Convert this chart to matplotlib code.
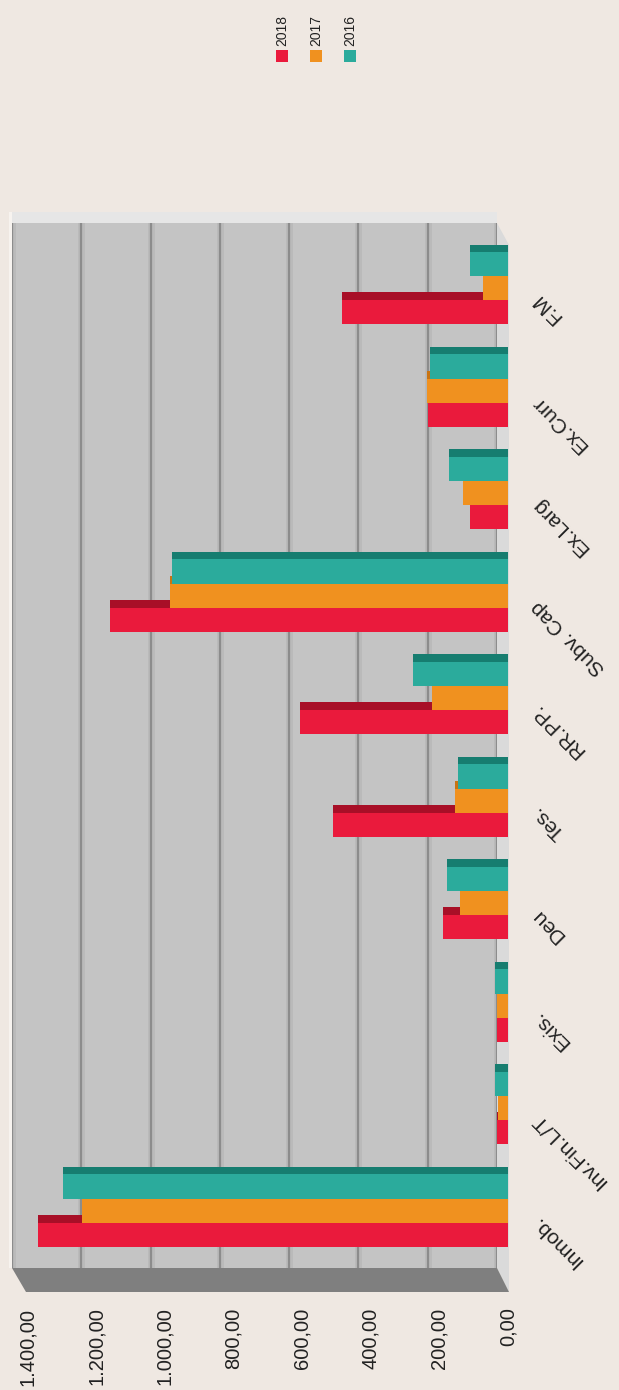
import matplotlib
matplotlib.use("Agg")
import matplotlib.pyplot as plt
from matplotlib.patches import Polygon, Rectangle
import numpy as np

plt.rcParams['font.family'] = ['Liberation Sans', 'DejaVu Sans']

# ---------------- data ----------------
categories = ["Inmob.", "Inv.Fin.L/T", "Exis.", "Deu", "Tes.", "RR.PP.",
              "Subv. Cap", "Ex.Larg", "Ex.Curr", "F.M"]
series_names = ["2018", "2017", "2016"]
vals_2018 = [1370, 32, 32, 190, 510, 606, 1160, 111, 233, 484]
vals_2017 = [1242, 30, 32, 140, 155, 222, 985, 131, 236, 73]
vals_2016 = [1297, 38, 38, 178, 146, 277, 980, 172, 227, 111]
value_ticks = [0, 200, 400, 600, 800, 1000, 1200, 1400]
value_tick_labels = ["0,00", "200,00", "400,00", "600,00", "800,00",
                     "1.000,00", "1.200,00", "1.400,00"]

colors_face = ["#ea1a3c", "#f0911f", "#2bab9c"]
colors_dark = ["#a80f27", "#c97412", "#167d70"]

W, H = 619, 1390
BG = "#efe8e2"
fig = plt.figure(figsize=(W / 100, H / 100), dpi=100, facecolor=BG)


def fx(px):
    return px / W


def fy(py):
    return 1 - py / H


# ---------------- back wall ----------------
bx0, bx1, by0, by1 = 12, 497, 223, 1268
ax_back = fig.add_axes([fx(bx0), fy(by1), fx(bx1 - bx0), (by1 - by0) / H])
ax_back.set_zorder(-1)
ax_back.set_facecolor("#c4c4c4")
ax_back.set_xlim(1400, 0)
ax_back.set_ylim(0, 1)
for v in value_ticks:
    ax_back.axvline(v, color="#8c8c8c", lw=1.6, zorder=1)
    ax_back.axvline(v, color="#b4b4b4", lw=5, zorder=0.5, alpha=0.6)
for s in ax_back.spines.values():
    s.set_visible(False)
ax_back.set_xticks([])
ax_back.set_yticks([])

deco = dict(transform=fig.transFigure, edgecolor="none", zorder=-2)
# top edge of wall
fig.patches.append(Rectangle((fx(bx0), fy(by0)), fx(bx1 - bx0), 11 / H,
                             facecolor="#e6e6e6", **deco))
# left edge highlight
fig.patches.append(Rectangle((fx(bx0 - 3), fy(by1)), fx(3), (by1 - by0 + 11) / H,
                             facecolor="#f7f3ef", **deco))
# floor (right side)
fig.patches.append(Polygon([(fx(497), fy(223)), (fx(509), fy(245)),
                            (fx(509), fy(1292)), (fx(497), fy(1268))],
                           closed=True, facecolor="#dadada", **deco))
# side wall (dark band)
fig.patches.append(Polygon([(fx(12), fy(1268)), (fx(497), fy(1268)),
                            (fx(509), fy(1292)), (fx(26), fy(1292))],
                           closed=True, facecolor="#7f7f7f", **deco))

# ---------------- front axes with bars ----------------
ax = fig.add_axes([fx(27.6), fy(1270), fx(508 - 27.6), (1270 - 245) / H])
ax.set_zorder(1)
ax.patch.set_alpha(0)
ax.set_xlim(1400, 0)
ax.set_ylim(-0.5, len(categories) - 0.5)

pos = np.arange(len(categories))
h = 0.235
strip = 0.075
base = pos - 1.5 * h + 0.08
for k, vals in enumerate([vals_2018, vals_2017, vals_2016]):
    y0 = base + k * h
    ax.barh(y0, vals, height=h, align="edge", color=colors_face[k],
            edgecolor="none", zorder=3 + 2 * k)
    ax.barh(y0 + h, vals, height=strip, align="edge", color=colors_dark[k],
            edgecolor="none", zorder=2 + 2 * k)

for s in ax.spines.values():
    s.set_visible(False)

ax.set_xticks(value_ticks)
ax.set_xticklabels(value_tick_labels, rotation=90, fontsize=14.5, color="#222222")
ax.tick_params(axis="x", length=0, pad=27)

ax.yaxis.tick_right()
ax.set_yticks(pos)
ax.set_yticklabels(categories, fontsize=15, color="#222222")
ax.tick_params(axis="y", length=0, pad=19)
for lab in ax.get_yticklabels():
    lab.set_rotation(135)
    lab.set_rotation_mode("anchor")
    lab.set_ha("right")
    lab.set_va("center")

# ---------------- legend ----------------
leg_x = [282, 316, 350]
for k, name in enumerate(series_names):
    fig.patches.append(Rectangle((fx(leg_x[k] - 6), fy(62)), fx(12), 12 / H,
                                 transform=fig.transFigure,
                                 facecolor=colors_face[k], edgecolor="none"))
    fig.text(fx(leg_x[k]), fy(46), name, rotation=90, ha="center", va="bottom",
             fontsize=10, color="#222222")

fig.savefig("out.png", dpi=100, facecolor=BG)
